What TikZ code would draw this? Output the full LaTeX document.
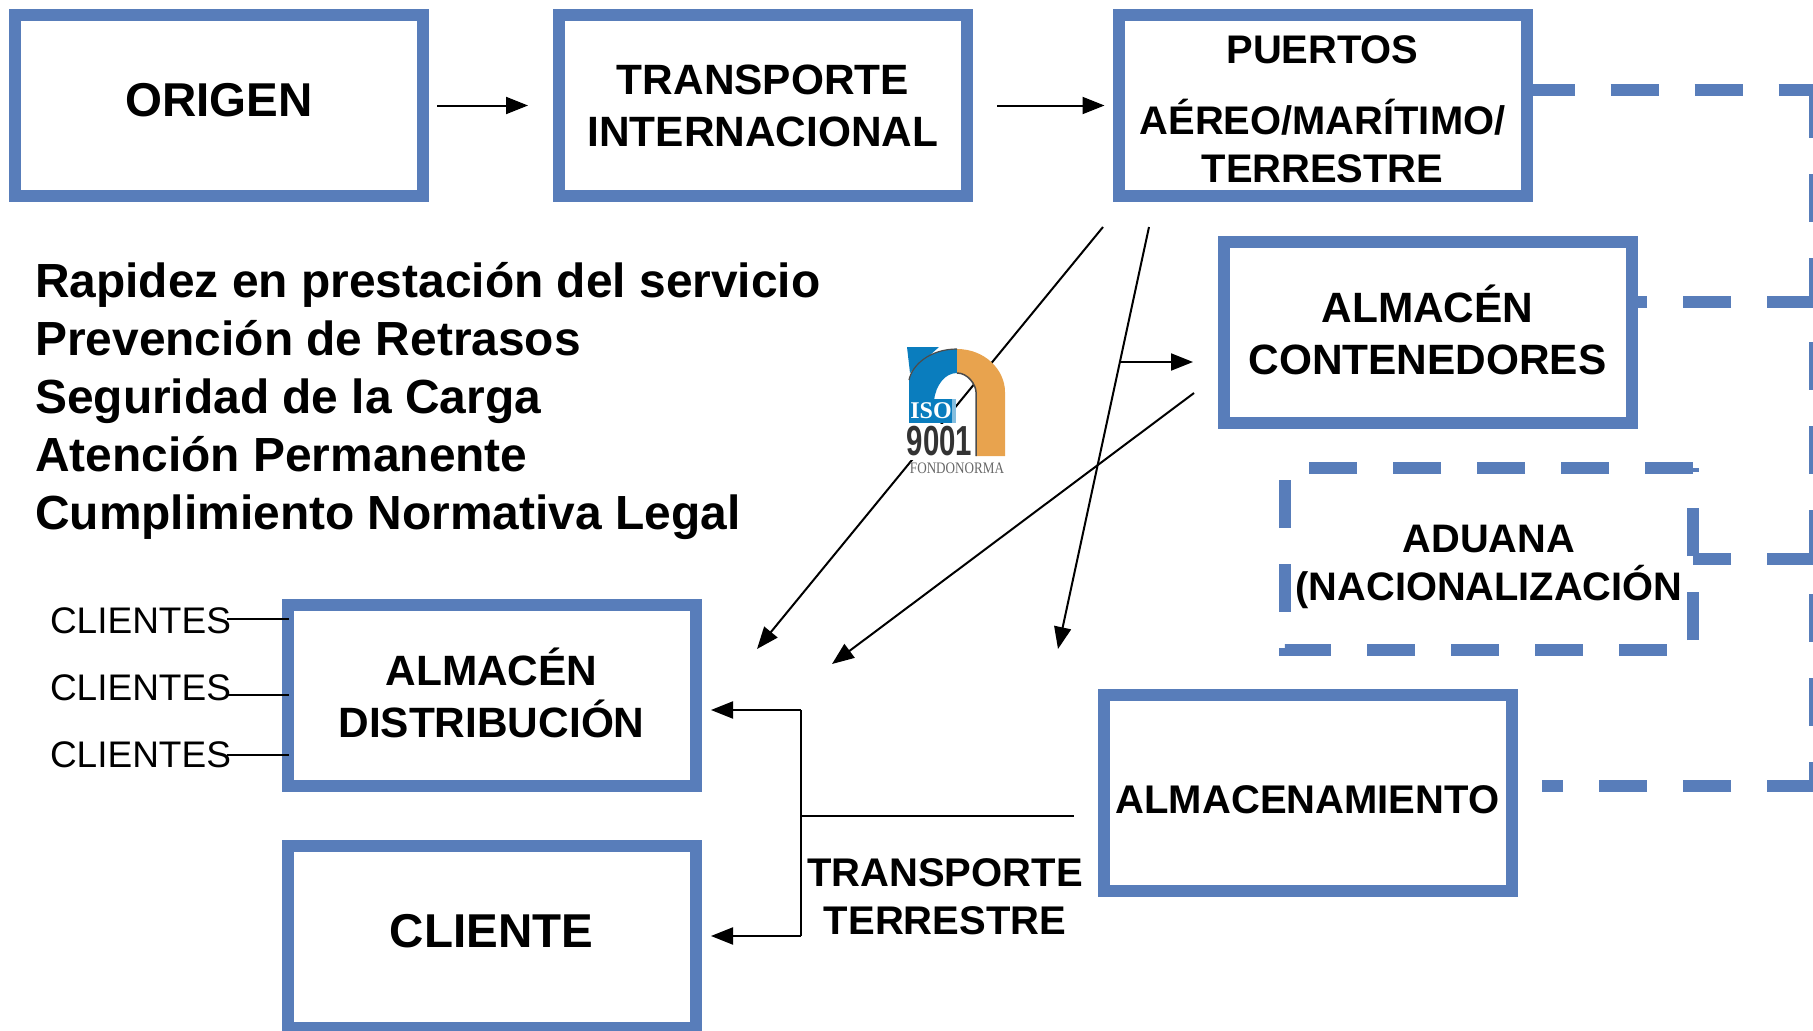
\documentclass[tikz,border=0pt]{standalone}
\usepackage{fontspec}
\setmainfont{Liberation Sans}
\newfontfamily\logofont{Liberation Serif}
\usetikzlibrary{arrows.meta,positioning}
\definecolor{boxblue}{RGB}{88,125,186}
\definecolor{isoblue}{RGB}{10,125,190}
\definecolor{isoorange}{RGB}{232,163,78}
% moves the text of a box up or down, the box itself stays
\newcommand{\boxtxt}[2]{\raisebox{#1}[\height][\depth]{\parbox{404pt}{\centering #2}}}
\tikzset{
	bigbox/.style={draw=boxblue,line width=12pt,minimum width=408pt,minimum height=181pt,inner sep=0pt,align=center,font=\fontsize{42.4}{52}\selectfont\bfseries},
	dashline/.style={draw=boxblue,line width=12pt,dash pattern=on 48pt off 36pt},
	lbl/.style={inner sep=0pt,align=center,font=\fontsize{40}{48}\selectfont\bfseries},
	cli/.style={inner sep=0pt,font=\fontsize{37}{40}\selectfont},
	thin line/.style={line width=2pt}
}
\begin{document}
\begin{tikzpicture}[x=1pt,y=-1pt,node distance=544pt,on grid,>={Triangle[length=22pt,width=17pt]}]
	\clip (0,0) rectangle (1813,1031);
	% top row
	\node[bigbox,font=\fontsize{47.5}{52}\selectfont\bfseries] (origen) at (219,105.5) {\boxtxt{5.8pt}{ORIGEN}};
	\node[bigbox] (transporte) [right=of origen] {\boxtxt{0pt}{TRANSPORTE\\INTERNACIONAL}};
	\node[bigbox,font=\fontsize{39.9}{48}\selectfont\bfseries] (puertos) [right=559.5pt of transporte] {\boxtxt{-3.5pt}{PUERTOS\\[23pt]A\'EREO/MAR\'ITIMO/\\TERRESTRE}};
	% right hand side
	\node[bigbox] (contenedores) at (1427.5,332.5) {\boxtxt{2.3pt}{ALMAC\'EN\\CONTENEDORES}};
	\node[lbl,font=\fontsize{39.8}{47.4}\selectfont\bfseries,minimum width=408pt,minimum height=182pt,outer sep=0pt] (aduana) at (1489,559) {\boxtxt{-8pt}{ADUANA\\(NACIONALIZACI\'ON}};
	\node[bigbox,minimum height=196pt,font=\fontsize{40}{48}\selectfont\bfseries] (almacenamiento) at (1307.5,793) {\boxtxt{-7pt}{ALMACENAMIENTO}};
	% left hand side
	\node[bigbox] (distribucion) at (491.5,695) {\boxtxt{2.3pt}{ALMAC\'EN\\DISTRIBUCI\'ON}};
	\node[bigbox,minimum height=182pt,font=\fontsize{47.5}{52}\selectfont\bfseries] (cliente) at (491.5,937) {\boxtxt{5.8pt}{CLIENTE}};
	\node[cli] (cli1) at (140.5,621) {CLIENTES};
	\node[cli] (cli2) at (140.5,688) {CLIENTES};
	\node[cli] (cli3) at (140.5,755) {CLIENTES};
	\node[lbl] (terrestre) at (945,897) {TRANSPORTE\\TERRESTRE};
	\node[inner sep=0pt,align=left,anchor=west,font=\fontsize{47.9}{58}\selectfont\bfseries] (calidad) at (35,400.6) {Rapidez en prestaci\'on del servicio\\Prevenci\'on de Retrasos\\Seguridad de la Carga\\Atenci\'on Permanente\\Cumplimiento Normativa Legal};
	% points for the free ends
	\coordinate (bus0) at (1815,90);
	\coordinate (bus1) at (1815,302);
	\coordinate (bus2) at (1815,786);
	\coordinate (puertosout) at (puertos.east |- bus0);
	\coordinate (almout) at (1542,786);
	\coordinate (d1a) at (1103,227);
	\coordinate (d1b) at (757,649);
	\coordinate (d2a) at (1149,227);
	\coordinate (d2b) at (1058,649);
	\coordinate (d3a) at (1194,393);
	\coordinate (d3b) at (832,664);
	\coordinate (rama) at (1119,362);
	\coordinate (ramab) at (1193,362);
	\coordinate (bar) at (801,816);
	\coordinate (bar1) at (801,710);
	\coordinate (bar2) at (801,936);
	\coordinate (tip1) at (711,710);
	\coordinate (tip2) at (711,936);
	% dashed lines
	\draw[dashline,dash phase=6pt] (puertosout) -- (bus0);
	\draw[dashline] (bus0) -- (bus2);
	\draw[dashline] (bus1) -- (contenedores.east |- bus1);
	\draw[dashline] (bus1 |- aduana.east) -- (aduana.east);
	\draw[dashline] (bus2) -- (almout);
	\draw[dashline] (aduana.north east) -- (aduana.north west) -- (aduana.south west) -- (aduana.south east) -- cycle;
	% arrows
	\path[->,thin line]
	(origen.east) edge [shorten <=8pt,shorten >=25pt] (transporte.west)
	(transporte.east) edge [shorten <=24pt,shorten >=8pt] (puertos.west)
	(d1a) edge (d1b)
	(d2a) edge (d2b)
	(d3a) edge (d3b)
	(rama) edge (ramab)
	(bar1) edge (tip1)
	(bar2) edge (tip2);
	\draw[thin line,shorten <=24pt] (almacenamiento.west |- bar) -- (bar);
	\draw[thin line] (bar1) -- (bar2);
	% clients
	\draw[thin line,shorten <=-4pt,shorten >=-7pt] ([yshift=2pt]cli1.east) -- ([yshift=2pt]distribucion.west |- cli1.east);
	\draw[thin line,shorten <=-4pt,shorten >=-7pt] ([yshift=-7pt]cli2.east) -- ([yshift=-7pt]distribucion.west |- cli2.east);
	\draw[thin line,shorten <=-4pt,shorten >=-7pt] (cli3.east) -- (distribucion.west |- cli3.east);
	% logo
	\fill[isoblue] (907,347) -- (939,347) -- (910,373) -- cycle;
	\fill[isoblue] (909,400) -- (909,380) .. controls (912,365) and (930,349) .. (957,349) -- (957,373) .. controls (945,373) and (936,385) .. (934,400) -- cycle;
	\fill[isoorange] (957,349) .. controls (985,349) and (1005,370) .. (1005,392) -- (1005,456) -- (976,456) -- (976,392) .. controls (976,385) and (968,373) .. (957,373) -- cycle;
	\draw[black!70,line width=1.2pt] (909,380) .. controls (912,365) and (930,349) .. (957,349);
	\draw[black!70,line width=1.5pt] (957,373) .. controls (968,373) and (976,385) .. (976,392) -- (976,456);
	\fill[isoblue] (909,399) rectangle (956,423);
	\fill[isoblue!50] (952,399) rectangle (956,423);
	\node[inner sep=0pt,text=white,font=\logofont\fontsize{24}{24}\selectfont\bfseries] (iso) at (931,411) {ISO};
	\fill[white] (907,424) rectangle (973,460);
	\node[inner sep=0pt,text=black!80,font=\fontsize{42}{42}\selectfont\bfseries] (nueve) at (939.5,441) {\scalebox{.7}[1]{9001}};
	\node[inner sep=0pt,text=black!60,font=\logofont\fontsize{16}{16}\selectfont] (fondo) at (957,468) {\scalebox{.82}[1]{FONDONORMA}};
\end{tikzpicture}
\end{document}
